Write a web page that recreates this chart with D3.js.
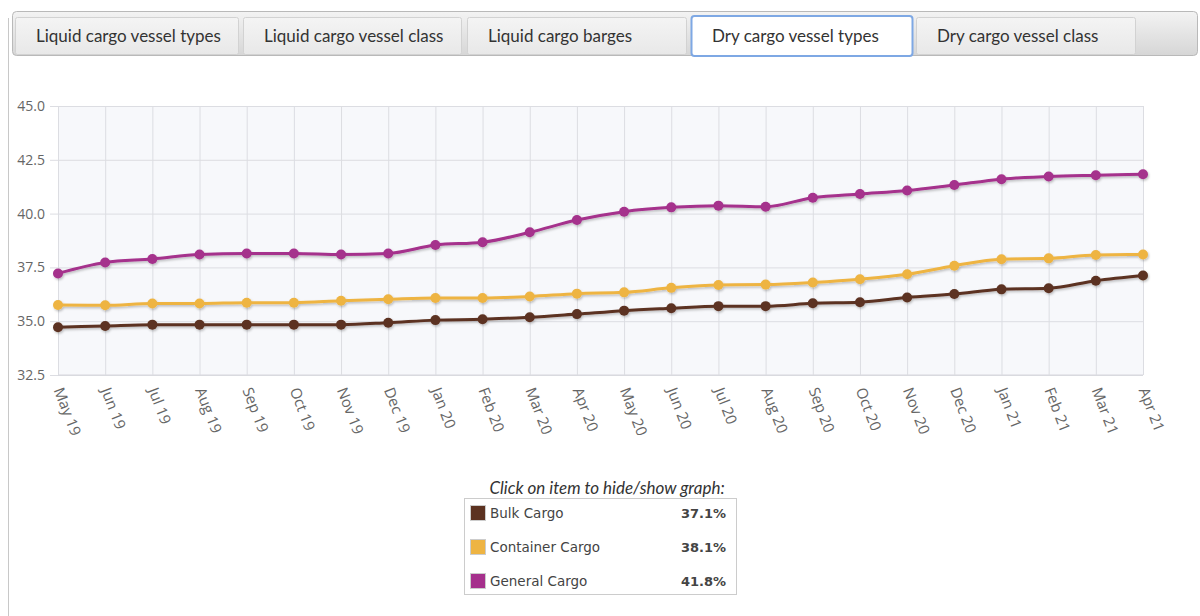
<!DOCTYPE html>
<html><head><meta charset="utf-8">
<script src="https://cdn.jsdelivr.net/npm/d3@7"></script>
<style>
html,body{margin:0;padding:0;background:#fff;}
svg{display:block;}
</style></head>
<body><svg id="c" width="1200" height="616"></svg>
<script>
const tabs = ["Liquid cargo vessel types","Liquid cargo vessel class","Liquid cargo barges","Dry cargo vessel types","Dry cargo vessel class"];
const activeTab = 3;
const months = ["May 19","Jun 19","Jul 19","Aug 19","Sep 19","Oct 19","Nov 19","Dec 19","Jan 20","Feb 20","Mar 20","Apr 20","May 20","Jun 20","Jul 20","Aug 20","Sep 20","Oct 20","Nov 20","Dec 20","Jan 21","Feb 21","Mar 21","Apr 21"];
const seriesNames = ["Bulk Cargo","Container Cargo","General Cargo"];
const bulk =      [34.72,34.78,34.84,34.84,34.84,34.84,34.84,34.93,35.05,35.09,35.18,35.33,35.49,35.6,35.7,35.7,35.83,35.88,36.1,36.26,36.48,36.53,36.88,37.12];
const container = [35.75,35.74,35.82,35.82,35.86,35.86,35.95,36.02,36.08,36.08,36.15,36.28,36.34,36.55,36.68,36.7,36.8,36.95,37.18,37.58,37.88,37.92,38.08,38.1];
const general =   [37.22,37.73,37.89,38.1,38.15,38.15,38.1,38.15,38.54,38.67,39.13,39.7,40.09,40.29,40.37,40.32,40.74,40.91,41.07,41.33,41.6,41.72,41.78,41.83];
const legendValues = ["37.1%","38.1%","41.8%"];
const yTicks = [32.5,35.0,37.5,40.0,42.5,45.0];
const colors = ["#5c3221","#eeb443","#a5308c"];

const svg = d3.select("#c");
const defs = svg.append("defs");

const g1 = defs.append("linearGradient").attr("id","barGrad").attr("x1",0).attr("y1",0).attr("x2",0).attr("y2",1);
g1.append("stop").attr("offset","0%").attr("stop-color","#f3f3f3");
g1.append("stop").attr("offset","100%").attr("stop-color","#d6d6d6");
const g2 = defs.append("linearGradient").attr("id","tabGrad").attr("x1",0).attr("y1",0).attr("x2",0).attr("y2",1);
g2.append("stop").attr("offset","0%").attr("stop-color","#f4f4f4");
g2.append("stop").attr("offset","100%").attr("stop-color","#e8e8e8");
const sh = defs.append("filter").attr("id","shadow").attr("x","-5%").attr("y","-20%").attr("width","110%").attr("height","160%");
sh.append("feDropShadow").attr("dx",1).attr("dy",1.5).attr("stdDeviation",1.2).attr("flood-color","#000").attr("flood-opacity",0.25);

svg.append("line").attr("x1",8.5).attr("x2",8.5).attr("y1",18).attr("y2",616).attr("stroke","#c8c8c8");
svg.append("rect").attr("x",12.5).attr("y",11.5).attr("width",1185).attr("height",44).attr("rx",4)
  .attr("fill","url(#barGrad)").attr("stroke","#b9b9b9");

const tabX = [15,243,467,691,916];
const tabW = [223,218,219,221,219];
tabs.forEach((t,i)=>{
  const act = i===activeTab;
  svg.append("rect").attr("x",tabX[i]+0.5).attr("y",act?16:17.5).attr("width",tabW[i]).attr("height",act?40:37).attr("rx",act?3:2)
    .attr("fill",act?"#fff":"url(#tabGrad)").attr("stroke",act?"#7ea8e4":"#d2d2d2").attr("stroke-width",act?2:1);
  svg.append("text").attr("x",tabX[i]+21).attr("y",42).attr("text-anchor","start")
    .attr("font-family","Lato").attr("font-size",17).attr("fill","#333").text(t);
});

const pL=58, pR=1143, pT=106, pB=375;
const x = d3.scalePoint().domain(months).range([pL,pR]);
const y = d3.scaleLinear().domain([32.5,45]).range([pB,pT]);

svg.append("rect").attr("x",pL).attr("y",pT).attr("width",pR-pL).attr("height",pB-pT).attr("fill","#f7f8fb");

const gy = svg.append("g").attr("transform",`translate(${pL},0)`)
  .call(d3.axisLeft(y).tickValues(yTicks).tickSize(-(pR-pL)).tickFormat(d3.format(".1f")));
gy.select(".domain").remove();
gy.selectAll(".tick line").attr("stroke","#dcdde2").attr("x1",-8);
gy.selectAll(".tick text").attr("x",-13).attr("font-family","Open Sans").attr("font-size",14).attr("fill","#666");

const gx = svg.append("g").attr("transform",`translate(0,${pB})`)
  .call(d3.axisBottom(x).tickSize(-(pB-pT)));
gx.select(".domain").attr("stroke","#d6d7dc").attr("d",`M${pL},0H${pR}`);
gx.selectAll(".tick line").attr("stroke","#dcdde2");
gx.selectAll(".tick text").attr("font-family","Open Sans").attr("font-size",15).attr("fill","#666")
  .attr("text-anchor","start").attr("dy","0.35em")
  .attr("transform","translate(0,13) rotate(69)").attr("x",0).attr("y",0);

const data=[bulk,container,general];
const line = d3.line().x((d,i)=>x(months[i])).y(d=>y(d)).curve(d3.curveMonotoneX);
const series = svg.append("g");
[2,1,0].forEach(k=>{
  const g = series.append("g").attr("filter","url(#shadow)");
  g.append("path").attr("d",line(data[k])).attr("fill","none").attr("stroke",colors[k]).attr("stroke-width",3);
  g.selectAll("circle").data(data[k]).join("circle")
    .attr("cx",(d,i)=>x(months[i])).attr("cy",d=>y(d)).attr("r",5).attr("fill",colors[k]);
});

svg.append("text").attr("x",607).attr("y",494).attr("text-anchor","middle").attr("font-family","Lato")
  .attr("font-style","italic").attr("font-size",17).attr("fill","#333").text("Click on item to hide/show graph:");
svg.append("rect").attr("x",464.5).attr("y",498.5).attr("width",272).attr("height",96).attr("fill","#fff").attr("stroke","#ccc");
seriesNames.forEach((n,i)=>{
  const cy = 513 + i*34;
  svg.append("rect").attr("x",470.5).attr("y",cy-7.5).attr("width",15).attr("height",15).attr("fill",colors[i]).attr("stroke","#ccc");
  svg.append("text").attr("x",490).attr("y",cy+5).attr("font-family","DejaVu Sans").attr("font-size",13.5).attr("fill","#444").text(n);
  svg.append("text").attr("x",726).attr("y",cy+5).attr("text-anchor","end").attr("font-family","DejaVu Sans").attr("font-weight","bold")
    .attr("font-size",13).attr("fill","#444").text(legendValues[i]);
});
</script></body></html>
